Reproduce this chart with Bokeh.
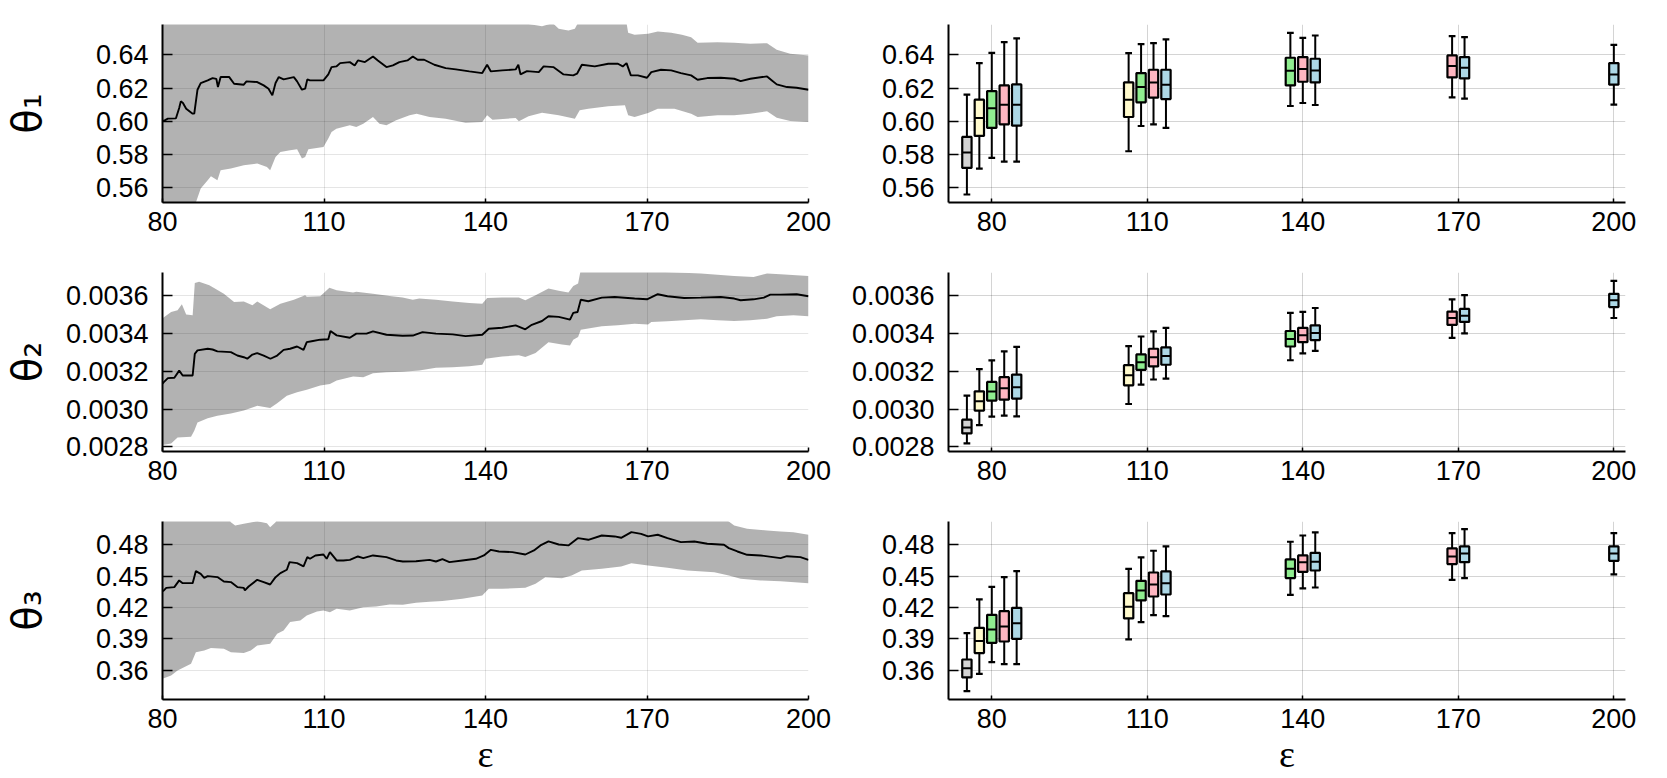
import numpy as np
from bokeh.plotting import figure
from bokeh.layouts import column, row
from bokeh.models import Range1d, FixedTicker, PrintfTickFormatter
from bokeh.embed import file_html
from bokeh.resources import INLINE

# ---------------- data ----------------
eps_ticks = [80, 110, 140, 170, 200]

theta1_ticks = [0.56, 0.58, 0.60, 0.62, 0.64]
theta2_ticks = [0.0028, 0.0030, 0.0032, 0.0034, 0.0036]
theta3_ticks = [0.36, 0.39, 0.42, 0.45, 0.48]

# running estimate (eps, value) and its band
theta1_mean = [(80.0,0.6002),(80.4,0.6006),(81.0,0.6016),(82.5,0.6018),(83.1,0.608),(83.4,0.612),(83.8,0.611),(84.4,0.6076),(85.6,0.6046),(85.9,0.6046),(86.5,0.619),(87.1,0.623),(88.4,0.6246),(89.3,0.626),(90.0,0.6255),(90.3,0.6206),(90.8,0.6266),(92.4,0.6266),(93.3,0.6226),(95.1,0.622),(95.6,0.624),(97.6,0.6236),(98.8,0.6216),(99.7,0.6196),(100.4,0.6156),(101.0,0.623),(101.6,0.6266),(102.5,0.6252),(104.4,0.6266),(105.0,0.624),(105.9,0.619),(106.5,0.6196),(106.9,0.6252),(107.4,0.6246),(109.9,0.6246),(110.8,0.6282),(111.4,0.6326),(112.3,0.633),(113.0,0.635),(114.8,0.6356),(115.7,0.6336),(116.3,0.6366),(117.6,0.6356),(119.1,0.639),(120.0,0.6366),(121.6,0.6326),(122.8,0.6336),(124.0,0.6356),(125.5,0.6366),(126.5,0.639),(127.4,0.637),(128.6,0.637),(130.5,0.634),(132.6,0.632),(134.5,0.6312),(137.0,0.630),(139.4,0.629),(140.3,0.634),(141.0,0.630),(143.1,0.6306),(145.6,0.6312),(146.1,0.634),(146.5,0.6282),(147.7,0.6302),(149.9,0.6296),(150.8,0.633),(152.6,0.6326),(154.5,0.6282),(156.3,0.6276),(157.0,0.6286),(157.9,0.634),(160.3,0.633),(162.8,0.6346),(164.6,0.6346),(165.5,0.633),(166.2,0.635),(167.0,0.6276),(168.3,0.6276),(170.0,0.6262),(170.8,0.6296),(172.6,0.631),(174.5,0.6306),(176.3,0.629),(178.2,0.6276),(179.4,0.625),(181.2,0.626),(183.7,0.6262),(186.2,0.6256),(187.4,0.6242),(189.2,0.6256),(192.3,0.627),(193.2,0.6246),(194.1,0.6222),(196.0,0.6206),(197.8,0.6202),(200.0,0.619)]
theta1_upper = [(80,0.69),(84,0.69),(86,0.70),(100,0.69),(120,0.68),(140,0.672),(147,0.662),(148,0.6585),(150.5,0.6572),(152.5,0.659),(153.6,0.6556),(155.4,0.6546),(156.6,0.6556),(157.3,0.660),(158.2,0.668),(165.9,0.665),(166.5,0.6532),(167.7,0.652),(170.2,0.6526),(172.0,0.654),(174.5,0.6532),(176.5,0.652),(178.2,0.6506),(179.4,0.6472),(183.1,0.6476),(186.2,0.6472),(189.2,0.6466),(192.3,0.647),(194.1,0.643),(196.6,0.6406),(200,0.6396)]
theta1_lower = [(80,0.522),(82,0.528),(84,0.537),(85.5,0.546),(86.2,0.5512),(87.1,0.5596),(88.4,0.5646),(89.0,0.567),(90.2,0.5646),(90.8,0.5706),(92.7,0.5716),(95.1,0.5736),(97.6,0.5746),(99.4,0.5726),(100.0,0.5706),(101.0,0.5786),(101.9,0.5816),(103.7,0.5826),(105.0,0.5832),(105.9,0.5776),(106.5,0.5786),(107.1,0.5832),(109.9,0.5846),(110.8,0.5896),(111.4,0.5936),(112.3,0.5956),(114.8,0.5976),(116.0,0.5966),(117.3,0.5986),(119.1,0.6026),(120.3,0.5986),(121.6,0.5976),(123.4,0.6006),(125.9,0.6036),(127.2,0.6046),(129.6,0.6026),(132.6,0.6016),(136.3,0.5992),(139.4,0.5996),(140.3,0.6036),(141.3,0.601),(145.6,0.602),(146.2,0.600),(148.0,0.603),(150.5,0.6052),(153.6,0.6036),(156.6,0.6016),(157.5,0.6066),(159.1,0.6076),(162.8,0.609),(165.9,0.6096),(166.5,0.6036),(167.7,0.6026),(170.2,0.605),(172.0,0.6076),(175.1,0.6076),(178.2,0.6046),(179.4,0.6026),(183.1,0.6036),(186.2,0.6036),(189.2,0.6046),(192.3,0.606),(194.1,0.6022),(196.6,0.6002),(200,0.5996)]

theta2_mean = [(80.0,0.003135),(80.2,0.003142),(81.0,0.003164),(82.2,0.003166),(83.1,0.003204),(83.75,0.003178),(85.6,0.003178),(86.0,0.003293),(86.5,0.003311),(88.4,0.00332),(89.3,0.003316),(90.2,0.003306),(92.7,0.003302),(93.9,0.003284),(95.1,0.003275),(95.75,0.003267),(96.7,0.003289),(97.6,0.003297),(98.8,0.003284),(100.05,0.003267),(101.3,0.003284),(102.5,0.003314),(103.7,0.00332),(105.0,0.003332),(106.2,0.003314),(106.8,0.003355),(107.7,0.00336),(109.3,0.003368),(110.8,0.00337),(111.2,0.003414),(112.35,0.003391),(114.8,0.003378),(116.0,0.0034),(117.9,0.0034),(119.1,0.003412),(121.6,0.003394),(124.6,0.003389),(126.5,0.00339),(128.3,0.003408),(130.8,0.0034),(133.9,0.003396),(136.3,0.003387),(139.4,0.003394),(140.6,0.003426),(143.1,0.003431),(145.6,0.003444),(147.4,0.003423),(148.6,0.003447),(150.5,0.003467),(151.7,0.003492),(153.6,0.003489),(155.7,0.003474),(156.3,0.00351),(157.1,0.003515),(157.7,0.00358),(159.1,0.003572),(161.6,0.003591),(164.0,0.003594),(167.7,0.003586),(170.0,0.003582),(172.0,0.003609),(173.8,0.003598),(176.9,0.003589),(180.0,0.003591),(183.7,0.003594),(186.2,0.003586),(187.4,0.003577),(189.8,0.003582),(191.7,0.003591),(192.9,0.003607),(194.8,0.003607),(197.8,0.003609),(200.0,0.003598)]
theta2_upper = [(80.0,0.00348),(80.2,0.003485),(81.6,0.003515),(82.8,0.003524),(83.6,0.003556),(84.4,0.003502),(85.6,0.003497),(86.0,0.003669),(86.8,0.003675),(88.7,0.003657),(91.4,0.003612),(93.3,0.003568),(95.1,0.003571),(96.7,0.00355),(97.6,0.003571),(100.0,0.003529),(101.9,0.003559),(104.4,0.00358),(106.5,0.003604),(106.8,0.003595),(109.3,0.003598),(111.0,0.003643),(112.35,0.00363),(115.4,0.003618),(116.0,0.003622),(119.1,0.003612),(122.2,0.0036),(124.6,0.003591),(126.5,0.00358),(127.7,0.003586),(130.8,0.00358),(133.9,0.003571),(137.0,0.003563),(139.4,0.003559),(140.3,0.003589),(143.1,0.003591),(146.2,0.003591),(147.4,0.003577),(149.3,0.003604),(151.7,0.003639),(153.6,0.003627),(155.4,0.003618),(156.3,0.003653),(157.2,0.003666),(157.7,0.00374),(170.8,0.00373),(180.0,0.003719),(186.2,0.003706),(189.8,0.003701),(192.3,0.003719),(194.8,0.003715),(200.0,0.003706)]
theta2_lower = [(80.0,0.00281),(81.6,0.002818),(82.8,0.00285),(85.3,0.002853),(85.9,0.002885),(86.5,0.002929),(88.4,0.002951),(90.2,0.002965),(92.7,0.002977),(95.1,0.002992),(97.6,0.003018),(100.0,0.003006),(101.3,0.003031),(103.1,0.003071),(105.0,0.003089),(106.8,0.003102),(109.3,0.003125),(111.1,0.003133),(112.35,0.003151),(115.4,0.003173),(117.3,0.003169),(119.1,0.00319),(121.6,0.003195),(124.6,0.003198),(127.7,0.003204),(130.8,0.003219),(133.9,0.003222),(137.0,0.003227),(139.4,0.003235),(140.0,0.003267),(143.1,0.003279),(146.2,0.003285),(147.4,0.003276),(149.3,0.003297),(151.7,0.003355),(154.2,0.003343),(155.7,0.003337),(156.3,0.003368),(157.2,0.003382),(157.7,0.003421),(161.6,0.003439),(164.6,0.003444),(167.7,0.003453),(170.2,0.003448),(170.8,0.003462),(173.8,0.003466),(176.9,0.003471),(180.0,0.003476),(183.1,0.003471),(186.2,0.003467),(189.2,0.003471),(192.3,0.003479),(194.1,0.003492),(197.2,0.003497),(200.0,0.003492)]

theta3_mean = [(80.0,0.4355),(80.25,0.4363),(80.7,0.4388),(82.2,0.4395),(83.1,0.4459),(83.75,0.4433),(85.6,0.4433),(86.2,0.4548),(87.1,0.4522),(87.75,0.4484),(88.4,0.45),(90.2,0.4491),(91.4,0.4449),(92.7,0.4443),(93.9,0.4395),(95.1,0.4388),(95.3,0.4363),(96.0,0.4401),(97.6,0.4465),(98.8,0.4443),(100.0,0.442),(101.0,0.449),(101.9,0.4529),(103.1,0.4561),(103.6,0.4634),(105.0,0.4624),(106.2,0.4593),(106.9,0.4682),(107.4,0.4666),(108.4,0.4698),(109.9,0.4707),(110.5,0.4666),(111.1,0.473),(112.35,0.465),(113.6,0.465),(114.8,0.4656),(116.3,0.4688),(117.3,0.4672),(119.1,0.4698),(121.6,0.4682),(123.4,0.465),(124.65,0.464),(127.1,0.4643),(129.6,0.4656),(130.8,0.464),(132.0,0.4662),(133.3,0.4634),(135.7,0.465),(138.2,0.4666),(139.7,0.4698),(141.0,0.4752),(142.5,0.4736),(145.0,0.473),(147.4,0.4707),(149.0,0.4746),(150.2,0.4794),(151.7,0.4832),(153.6,0.4803),(155.4,0.4794),(157.2,0.4864),(159.1,0.4848),(161.6,0.4889),(164.0,0.488),(165.2,0.4867),(167.1,0.4921),(168.9,0.4905),(170.2,0.488),(172.0,0.4896),(173.8,0.4864),(176.3,0.4826),(178.8,0.4832),(181.2,0.481),(184.3,0.48),(185.2,0.4768),(186.8,0.4736),(188.6,0.4704),(191.1,0.4698),(194.8,0.4672),(196.0,0.4691),(198.5,0.4682),(200.0,0.4656)]
theta3_upper = [(80,0.53),(90,0.53),(92.3,0.505),(92.7,0.5017),(93.5,0.4985),(95.1,0.5001),(97.6,0.5026),(99.4,0.5007),(100.0,0.4969),(101.0,0.5017),(101.5,0.506),(110,0.53),(150,0.53),(180,0.52),(184.5,0.505),(185.2,0.5023),(186.2,0.4985),(188.6,0.4953),(192.3,0.4937),(194.8,0.4928),(197.2,0.4921),(200.0,0.4896)]
theta3_lower = [(80.0,0.352),(80.25,0.3523),(81.6,0.3549),(82.8,0.3597),(85.3,0.3661),(86.2,0.3772),(87.75,0.3788),(89.0,0.3811),(91.4,0.3804),(92.7,0.3772),(95.1,0.3763),(96.4,0.3788),(97.6,0.3836),(100.0,0.3852),(101.3,0.3948),(102.5,0.398),(103.7,0.406),(105.6,0.4076),(106.8,0.4123),(108.7,0.4162),(109.9,0.4171),(111.1,0.4155),(112.35,0.4187),(114.8,0.4171),(117.3,0.4203),(119.7,0.421),(122.2,0.4229),(124.65,0.4225),(127.1,0.4245),(129.6,0.4254),(132.0,0.4261),(135.7,0.4283),(139.4,0.4315),(140.6,0.4379),(143.1,0.4379),(147.4,0.4388),(149.3,0.4427),(151.1,0.449),(154.2,0.448),(156.0,0.4506),(157.9,0.4554),(161.6,0.457),(165.2,0.4593),(167.1,0.4624),(170.2,0.4602),(173.8,0.458),(177.5,0.4554),(182.5,0.4538),(185.2,0.4506),(187.4,0.4474),(191.1,0.4459),(194.8,0.4452),(200.0,0.4433)]

# box plots: group (eps) and series index of each box
box_eps = [80, 80, 80, 80, 80, 110, 110, 110, 110, 140, 140, 140, 170, 170, 200]
box_series = [0, 1, 2, 3, 4, 1, 2, 3, 4, 2, 3, 4, 3, 4, 4]
series_colors = ["#d3d3d3", "#fffacd", "#90ee90", "#ffb6c1", "#add8e6"]

theta1_lo  = [0.556,0.5716,0.578,0.5758,0.5758, 0.582,0.5972,0.5982,0.596, 0.6092,0.611,0.6098, 0.6144,0.6136, 0.610]
theta1_q1  = [0.572,0.5912,0.596,0.5982,0.5974, 0.6026,0.6114,0.6142,0.6134, 0.6216,0.6238,0.6234, 0.6264,0.6258, 0.622]
theta1_med = [0.5812,0.602,0.6078,0.610,0.610, 0.613,0.6206,0.6234,0.622, 0.6304,0.6314,0.6306, 0.6332,0.6322, 0.6282]
theta1_q3  = [0.5906,0.613,0.6182,0.6216,0.6222, 0.6234,0.629,0.631,0.631, 0.6382,0.6386,0.6376, 0.6396,0.6386, 0.635]
theta1_hi  = [0.616,0.635,0.6412,0.6476,0.6498, 0.641,0.6464,0.647,0.6492, 0.6532,0.6502,0.6516, 0.6512,0.6506, 0.646]

theta2_lo  = [0.002818,0.002915,0.002960,0.002965,0.002961, 0.003027,0.003130,0.003157,0.003162, 0.003259,0.003295,0.003309, 0.003378,0.003401, 0.003483]
theta2_q1  = [0.002871,0.002992,0.003045,0.003050,0.003056, 0.003126,0.003208,0.003226,0.003235, 0.003332,0.003355,0.003366, 0.003446,0.003462, 0.003541]
theta2_med = [0.002903,0.003041,0.003093,0.003110,0.003116, 0.003180,0.003249,0.003275,0.003281, 0.003371,0.003391,0.003403, 0.003483,0.003495, 0.003577]
theta2_q3  = [0.002944,0.003094,0.003144,0.003169,0.003183, 0.003233,0.003290,0.003320,0.003327, 0.003414,0.003431,0.003444, 0.003517,0.003531, 0.003611]
theta2_hi  = [0.003071,0.003212,0.003258,0.003306,0.003330, 0.003334,0.003385,0.003412,0.003431, 0.003510,0.003515,0.003536, 0.003582,0.003604, 0.003680]

theta3_lo  = [0.3399,0.3565,0.3677,0.3657,0.3657, 0.3894,0.4060,0.4127,0.4117, 0.4321,0.4382,0.4391, 0.4465,0.4481, 0.4516]
theta3_q1  = [0.3530,0.3763,0.3862,0.3874,0.3900, 0.4095,0.4267,0.4305,0.4324, 0.4481,0.4541,0.4554, 0.4615,0.4634, 0.4647]
theta3_med = [0.3619,0.3878,0.3989,0.4018,0.4050, 0.4206,0.4363,0.4420,0.4433, 0.4570,0.4634,0.4637, 0.4688,0.4717, 0.4717]
theta3_q3  = [0.3702,0.4005,0.4130,0.4165,0.4197, 0.4337,0.4455,0.4535,0.4545, 0.4660,0.4698,0.4723, 0.4765,0.4784, 0.4784]
theta3_hi  = [0.3954,0.4277,0.4398,0.4490,0.4548, 0.4570,0.4679,0.4743,0.4784, 0.4829,0.4889,0.4918, 0.4912,0.4950, 0.4912]

# ---------------- layout / style ----------------
TICK_FONT = "Liberation Sans"
TICK_SIZE = "27px"
ROW_H = [248, 249, 281]
BOTTOM = [46, 46, 79]
LEFT_W, RIGHT_W = 840, 827
BOX_GAP = 2.4
BOX_W = 1.8
CAP_W = 1.3


def style(p, yticks, fmt, ylabel=None, ylabel_standoff=0, xlabel=None, grid_alpha=0.1):
    p.outline_line_color = None
    p.background_fill_color = "white"
    p.border_fill_color = "white"
    for ax in (p.xaxis[0], p.yaxis[0]):
        ax.axis_line_width = 2
        ax.axis_line_color = "black"
        ax.major_tick_out = 0
        ax.major_tick_line_width = 1.5
        ax.minor_tick_line_color = None
        ax.major_label_text_font = TICK_FONT
        ax.major_label_text_font_size = TICK_SIZE
        ax.major_label_text_color = "black"
        ax.axis_label_text_color = "black"
    p.xaxis[0].ticker = FixedTicker(ticks=eps_ticks)
    p.xaxis[0].major_tick_in = 4
    p.xaxis[0].major_label_standoff = 9
    p.yaxis[0].ticker = FixedTicker(ticks=yticks)
    p.yaxis[0].formatter = PrintfTickFormatter(format=fmt)
    p.yaxis[0].major_tick_in = 10
    p.yaxis[0].major_label_standoff = 14
    if ylabel:
        p.yaxis[0].axis_label = ylabel
        p.yaxis[0].axis_label_text_font = "DejaVu Sans"
        p.yaxis[0].axis_label_text_font_size = "40px"
        p.yaxis[0].axis_label_text_font_style = "normal"
        p.yaxis[0].axis_label_standoff = ylabel_standoff
    if xlabel:
        p.xaxis[0].axis_label = xlabel
        p.xaxis[0].axis_label_text_font = "Liberation Serif"
        p.xaxis[0].axis_label_text_font_size = "38px"
        p.xaxis[0].axis_label_text_font_style = "normal"
        p.xaxis[0].axis_label_standoff = 2
    p.grid.grid_line_color = "black"
    p.grid.grid_line_alpha = grid_alpha
    p.grid.grid_line_width = 1


def left_panel(i, mean, upper, lower, yr, yticks, fmt, label, standoff, xlabel=None):
    p = figure(width=LEFT_W, height=ROW_H[i], x_range=Range1d(80, 200), y_range=Range1d(*yr),
               output_backend="svg", toolbar_location=None,
               min_border_left=158, min_border_right=32, min_border_top=24, min_border_bottom=BOTTOM[i])
    bx = [a for a, b in upper] + [a for a, b in reversed(lower)]
    by = [b for a, b in upper] + [b for a, b in reversed(lower)]
    p.patch(bx, by, fill_color="black", fill_alpha=0.3, line_color=None)
    p.line([a for a, b in mean], [b for a, b in mean], line_color="black", line_width=1.9)
    style(p, yticks, fmt, ylabel=label, ylabel_standoff=standoff, xlabel=xlabel, grid_alpha=0.1)
    return p


def box_positions():
    xs = []
    for e, k in zip(box_eps, box_series):
        ks = [kk for ee, kk in zip(box_eps, box_series) if ee == e]
        xs.append(e + (k - np.mean(ks)) * BOX_GAP)
    return np.array(xs)


def right_panel(i, lo, q1, med, q3, hi, yr, yticks, fmt, xlabel=None):
    p = figure(width=RIGHT_W, height=ROW_H[i], x_range=Range1d(71.65, 202.25), y_range=Range1d(*yr),
               output_backend="svg", toolbar_location=None,
               min_border_left=108, min_border_right=42, min_border_top=24, min_border_bottom=BOTTOM[i])
    xs = box_positions()
    cols = [series_colors[k] for k in box_series]
    p.segment(x0=xs, y0=lo, x1=xs, y1=q1, line_color="black", line_width=2)
    p.segment(x0=xs, y0=q3, x1=xs, y1=hi, line_color="black", line_width=2)
    p.segment(x0=xs - CAP_W / 2, y0=lo, x1=xs + CAP_W / 2, y1=lo, line_color="black", line_width=2.2)
    p.segment(x0=xs - CAP_W / 2, y0=hi, x1=xs + CAP_W / 2, y1=hi, line_color="black", line_width=2.2)
    p.vbar(x=xs, width=BOX_W, bottom=q1, top=q3, fill_color=cols, line_color="black", line_width=2.2)
    p.segment(x0=xs - BOX_W / 2, y0=med, x1=xs + BOX_W / 2, y1=med, line_color="black", line_width=2)
    style(p, yticks, fmt, xlabel=xlabel, grid_alpha=0.17)
    return p


yr1 = (0.5512, 0.6582)
yr2 = (0.0027752, 0.0037242)
yr3 = (0.3319, 0.5023)

p1 = left_panel(0, theta1_mean, theta1_upper, theta1_lower, yr1, theta1_ticks, "%.2f", "θ₁", 43)
p2 = right_panel(0, theta1_lo, theta1_q1, theta1_med, theta1_q3, theta1_hi, yr1, theta1_ticks, "%.2f")
p3 = left_panel(1, theta2_mean, theta2_upper, theta2_lower, yr2, theta2_ticks, "%.4f", "θ₂", 13)
p4 = right_panel(1, theta2_lo, theta2_q1, theta2_med, theta2_q3, theta2_hi, yr2, theta2_ticks, "%.4f")
p5 = left_panel(2, theta3_mean, theta3_upper, theta3_lower, yr3, theta3_ticks, "%.2f", "θ₃", 43, xlabel="ε")
p6 = right_panel(2, theta3_lo, theta3_q1, theta3_med, theta3_q3, theta3_hi, yr3, theta3_ticks, "%.2f", xlabel="ε")

layout = column(row(p1, p2, spacing=0), row(p3, p4, spacing=0), row(p5, p6, spacing=0), spacing=0)

open("out.html", "w").write(file_html(layout, INLINE))
